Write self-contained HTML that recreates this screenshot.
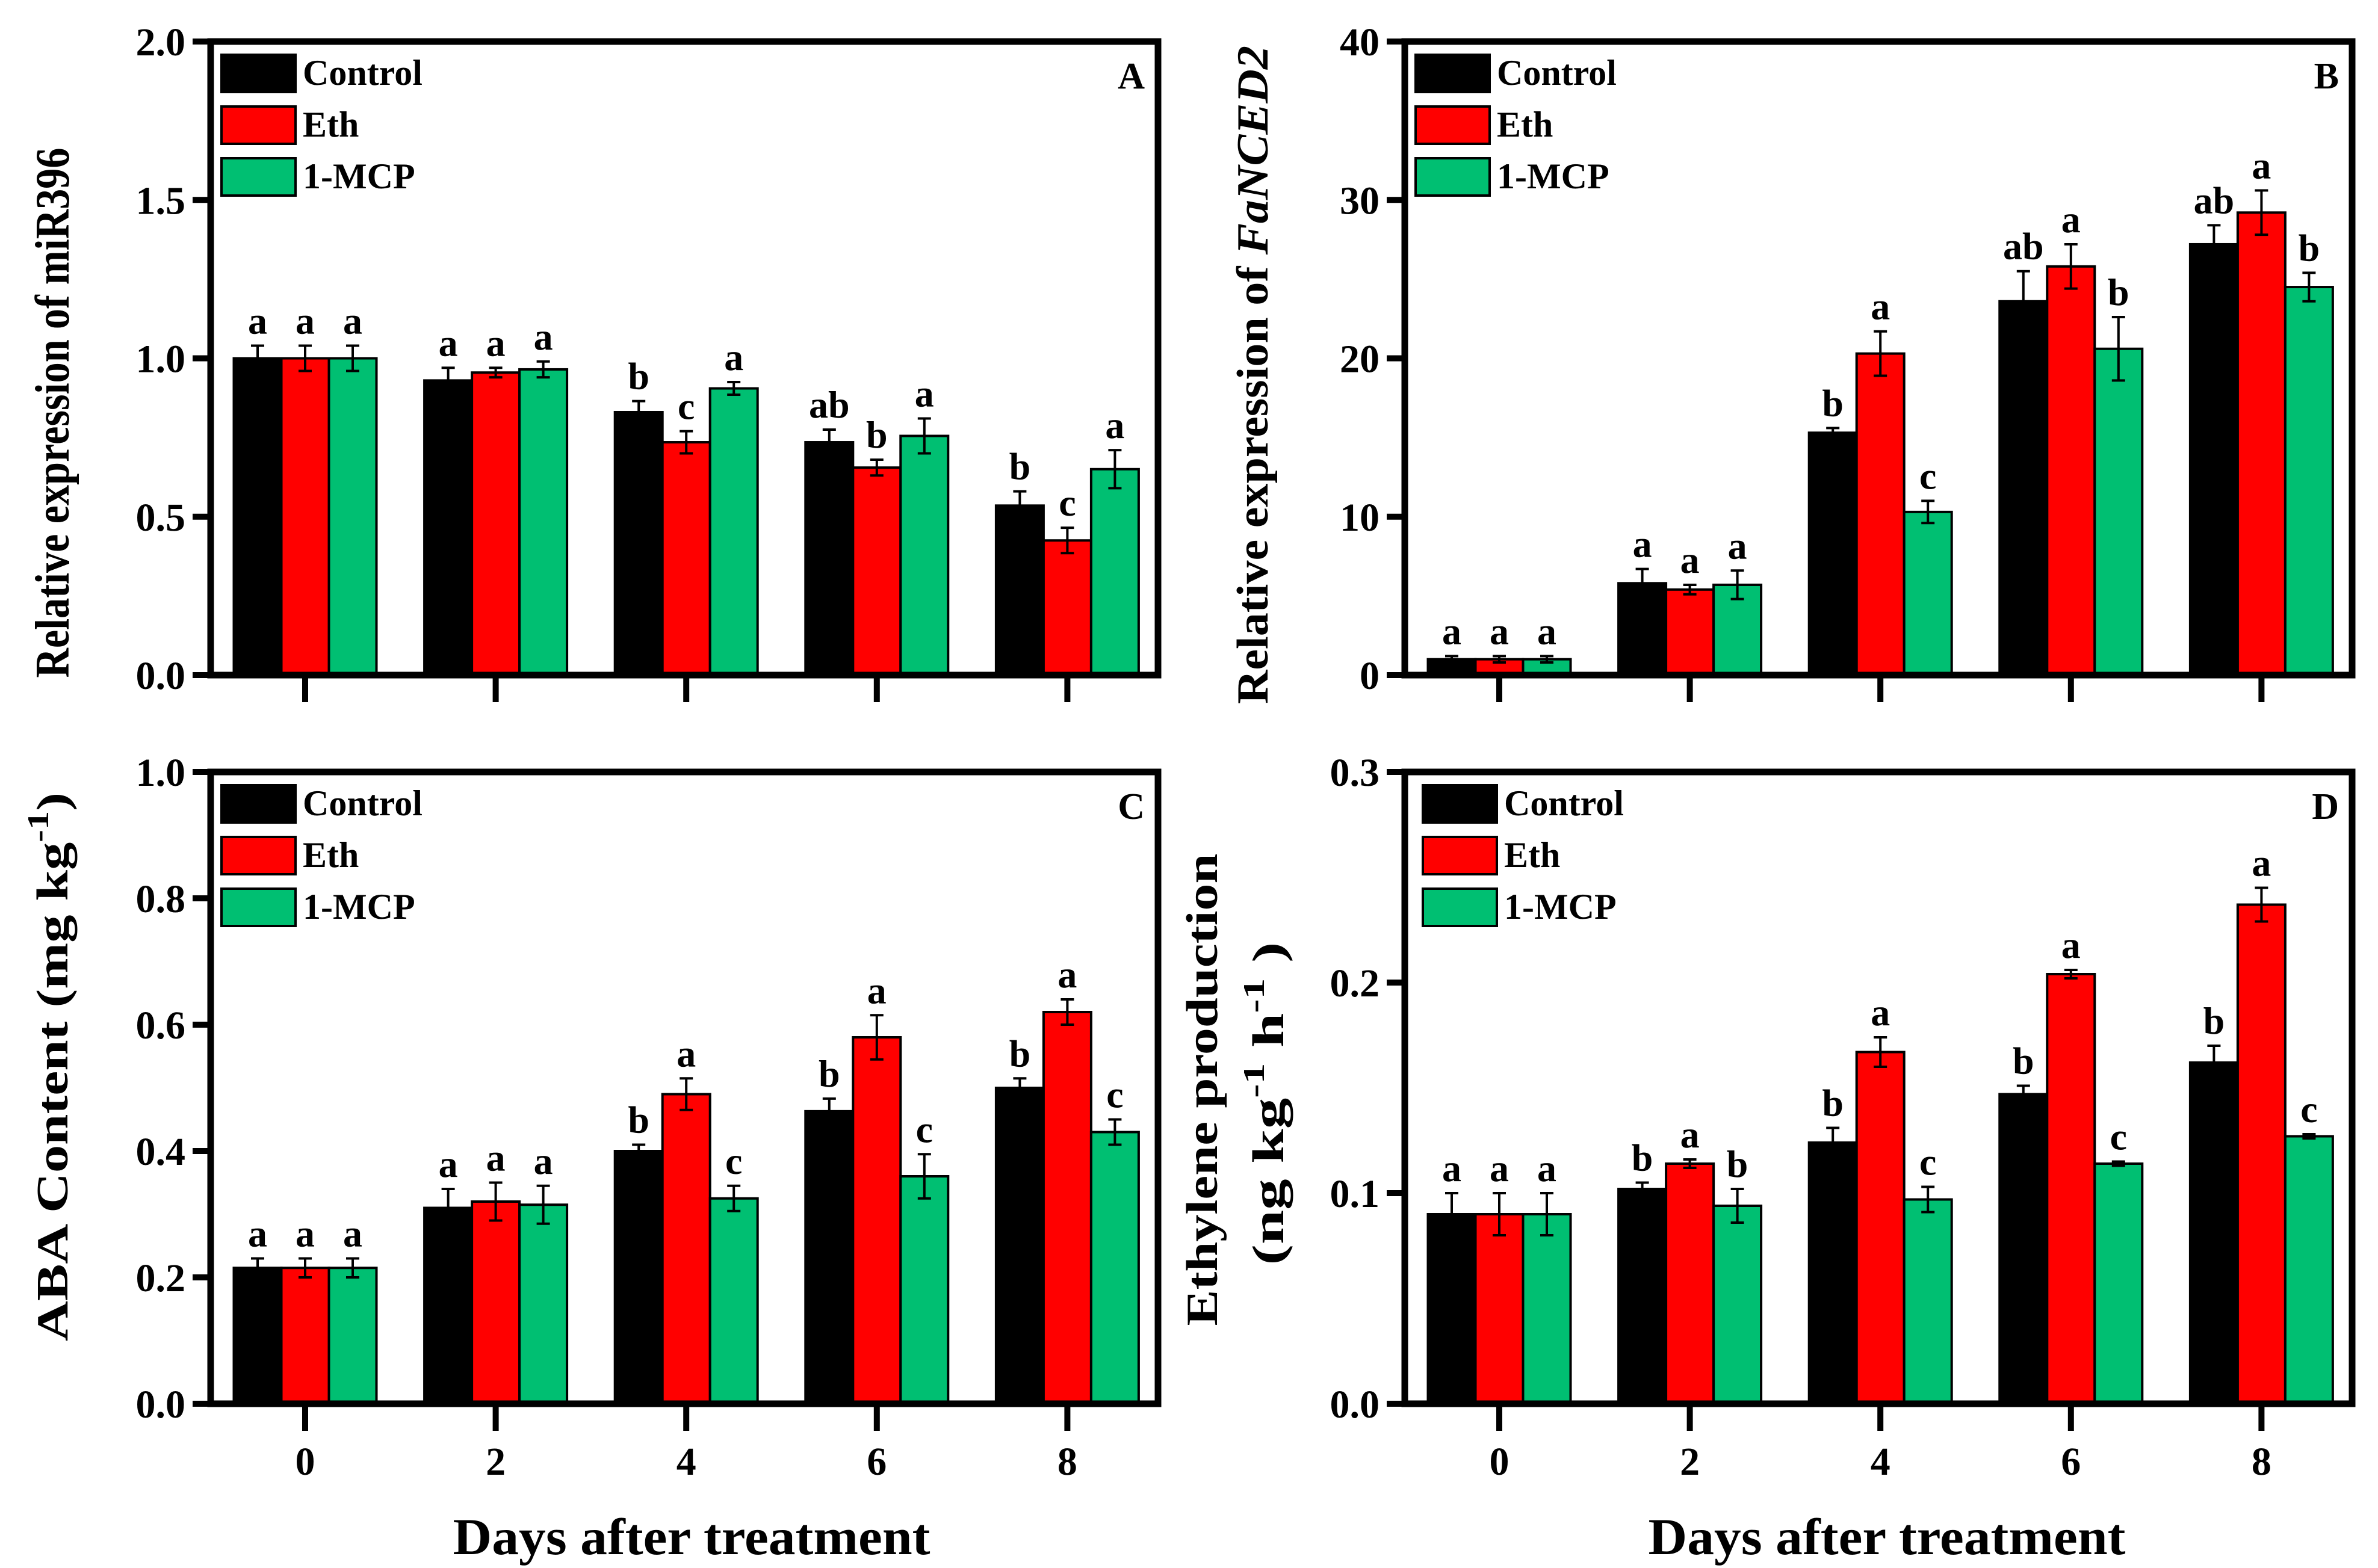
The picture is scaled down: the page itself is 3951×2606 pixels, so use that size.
<!DOCTYPE html>
<html><head><meta charset="utf-8"><style>
html,body{margin:0;padding:0;background:#fff}
svg{display:block}
text{font-family:"Liberation Serif",serif;font-weight:bold;fill:#000}
</style></head><body>
<svg id="chart" width="3951" height="2606" viewBox="0 0 3951 2606" xmlns="http://www.w3.org/2000/svg"></svg>
<script>
const days = ["0","2","4","6","8"];
const seriesNames = ["Control","Eth","1-MCP"];
const seriesColors = ["#000000","#ff0000","#00bf72"];

const aControl = [1.0,0.93,0.83,0.735,0.535];
const aControlErr = [0.04,0.04,0.035,0.04,0.045];
const aEth = [1.0,0.955,0.735,0.655,0.425];
const aEthErr = [0.04,0.015,0.035,0.025,0.04];
const aMcp = [1.0,0.965,0.905,0.755,0.65];
const aMcpErr = [0.04,0.025,0.02,0.055,0.06];
const aLetters = [["a","a","a"],["a","a","a"],["b","c","a"],["ab","b","a"],["b","c","a"]];
const aTicks = ["0.0","0.5","1.0","1.5","2.0"];

const bControl = [1.0,5.8,15.3,23.6,27.2];
const bControlErr = [0.2,0.9,0.3,1.9,1.2];
const bEth = [1.0,5.4,20.3,25.8,29.2];
const bEthErr = [0.2,0.3,1.4,1.4,1.4];
const bMcp = [1.0,5.7,10.3,20.6,24.5];
const bMcpErr = [0.2,0.9,0.7,2.0,0.9];
const bLetters = [["a","a","a"],["a","a","a"],["b","a","c"],["ab","a","b"],["ab","a","b"]];
const bTicks = ["0","10","20","30","40"];

const cControl = [0.215,0.31,0.40,0.463,0.50];
const cControlErr = [0.015,0.03,0.01,0.02,0.015];
const cEth = [0.215,0.32,0.49,0.58,0.62];
const cEthErr = [0.015,0.03,0.025,0.035,0.02];
const cMcp = [0.215,0.315,0.325,0.36,0.43];
const cMcpErr = [0.015,0.03,0.02,0.035,0.02];
const cLetters = [["a","a","a"],["a","a","a"],["b","a","c"],["b","a","c"],["b","a","c"]];
const cTicks = ["0.0","0.2","0.4","0.6","0.8","1.0"];

const dControl = [0.09,0.102,0.124,0.147,0.162];
const dControlErr = [0.01,0.003,0.007,0.004,0.008];
const dEth = [0.09,0.114,0.167,0.204,0.237];
const dEthErr = [0.01,0.002,0.007,0.002,0.008];
const dMcp = [0.09,0.094,0.097,0.114,0.127];
const dMcpErr = [0.01,0.008,0.006,0.001,0.001];
const dLetters = [["a","a","a"],["b","a","b"],["b","a","c"],["b","a","c"],["b","a","c"]];
const dTicks = ["0.0","0.1","0.2","0.3"];

const NS="http://www.w3.org/2000/svg";
const svg=document.getElementById('chart');
function el(tag,attrs,parent){const e=document.createElementNS(NS,tag);for(const k in attrs)e.setAttribute(k,attrs[k]);(parent||svg).appendChild(e);return e;}

function panel(cfg){
  const g=el('g',{});
  
  
  const L=cfg.left,R=cfg.right,T=cfg.top,B=cfg.bottom;
  const ymax=parseFloat(cfg.ticks[cfg.ticks.length-1]);
  const y=v=>B-(v/ymax)*(B-T);
  const x=i=>L+157+i*316.6;
  const bw=79;
  const vals=[cfg.c,cfg.e,cfg.m], errs=[cfg.ce,cfg.ee,cfg.me];
  for(let i=0;i<days.length;i++){
    for(let s=0;s<3;s++){
      const cx=x(i)+(s-1)*bw;
      const r=el('rect',{x:cx-bw/2,y:y(vals[s][i]),width:bw,height:B-y(vals[s][i]),fill:seriesColors[s],stroke:'#000','stroke-width':4},g);
      
      
      const top=y(vals[s][i]+errs[s][i]), bot=y(vals[s][i]-errs[s][i]);
      const eb=el('path',{d:`M${cx},${top}V${bot}M${cx-11},${top}H${cx+11}M${cx-11},${bot}H${cx+11}`,stroke:'#000','stroke-width':4,fill:'none'},g);
      
      
      const t=el('text',{x:cx,y:top-20,'font-size':64,'text-anchor':'middle'},g);
      t.textContent=cfg.letters[i][s];
      
      
    }
    const tk=el('line',{x1:x(i),x2:x(i),y1:B,y2:B+45,stroke:'#000','stroke-width':10},g);
    
    
    if(cfg.xlabels){
      const tl=el('text',{x:x(i),y:B+118,'font-size':66,'text-anchor':'middle'},g);
      tl.textContent=days[i];
      
      
    }
  }
  cfg.ticks.forEach(tv=>{
    const v=parseFloat(tv);
    const ln=el('line',{x1:L-30,x2:L,y1:y(v),y2:y(v),stroke:'#000','stroke-width':10},g);
    
    
    const t=el('text',{x:L-42,y:y(v)+23,'font-size':66,'text-anchor':'end'},g);
    t.textContent=tv;
    
    
  });
  const fr=el('rect',{x:L,y:T,width:R-L,height:B-T,fill:'none',stroke:'#000','stroke-width':11},g);
  
  
  for(let s=0;s<3;s++){
    const ly=T+22+s*86;
    const sw=el('rect',{x:L+cfg.lx,y:ly,width:123,height:62,fill:seriesColors[s],stroke:'#000','stroke-width':4},g);
    
    
    const lt=el('text',{x:L+cfg.lx+135,y:ly+50,'font-size':60},g);
    lt.textContent=seriesNames[s];
    
    
  }
  const pl=el('text',{x:R-22,y:T+78,'font-size':62,'text-anchor':'end'},g);
  pl.textContent=cfg.id;
  
  
}

panel({id:'A',left:350,right:1924,top:69,bottom:1122,lx:18,ticks:aTicks,c:aControl,ce:aControlErr,e:aEth,ee:aEthErr,m:aMcp,me:aMcpErr,letters:aLetters,xlabels:false});
panel({id:'B',left:2334,right:3908,top:69,bottom:1122,lx:18,ticks:bTicks,c:bControl,ce:bControlErr,e:bEth,ee:bEthErr,m:bMcp,me:bMcpErr,letters:bLetters,xlabels:false});
panel({id:'C',left:350,right:1924,top:1283,bottom:2333,lx:18,ticks:cTicks,c:cControl,ce:cControlErr,e:cEth,ee:cEthErr,m:cMcp,me:cMcpErr,letters:cLetters,xlabels:true});
panel({id:'D',left:2334,right:3908,top:1283,bottom:2333,lx:30,ticks:dTicks,c:dControl,ce:dControlErr,e:dEth,ee:dEthErr,m:dMcp,me:dMcpErr,letters:dLetters,xlabels:true});

function title(x,y,size,rot,len,html,name){
  const e=document.createElementNS(NS,'text');
  e.setAttribute('x',x);e.setAttribute('y',y);e.setAttribute('font-size',size);
  e.setAttribute('text-anchor','middle');
  e.setAttribute('textLength',len);
  e.setAttribute('lengthAdjust','spacingAndGlyphs');
  if(rot)e.setAttribute('transform',`rotate(-90 ${x} ${y})`);
  e.innerHTML=html;
  
  
  svg.appendChild(e);
}
title(114,686,80,true,881,'Relative expression of miR396','y-axis-title-a');
title(2106,623,74,true,1094,'Relative expression of <tspan font-style="italic">FaNCED2</tspan>','y-axis-title-b');
title(112,1773,74,true,912,'ABA Content (mg kg<tspan dy="-32" font-size="50">-1</tspan><tspan dy="32">)</tspan>','y-axis-title-c');
title(2022,1811,74,true,785,'Ethylene production','y-axis-title-d-line1');
title(2132,1834,74,true,537,'(ng kg<tspan dy="-32" font-size="50">-1</tspan><tspan dy="32"> h</tspan><tspan dy="-32" font-size="50">-1</tspan><tspan dy="32"> )</tspan>','y-axis-title-d-line2');
title(1149,2583,86,false,793,'Days after treatment','x-axis-title-c');
title(3135,2583,86,false,793,'Days after treatment','x-axis-title-d');
</script>
</body></html>
